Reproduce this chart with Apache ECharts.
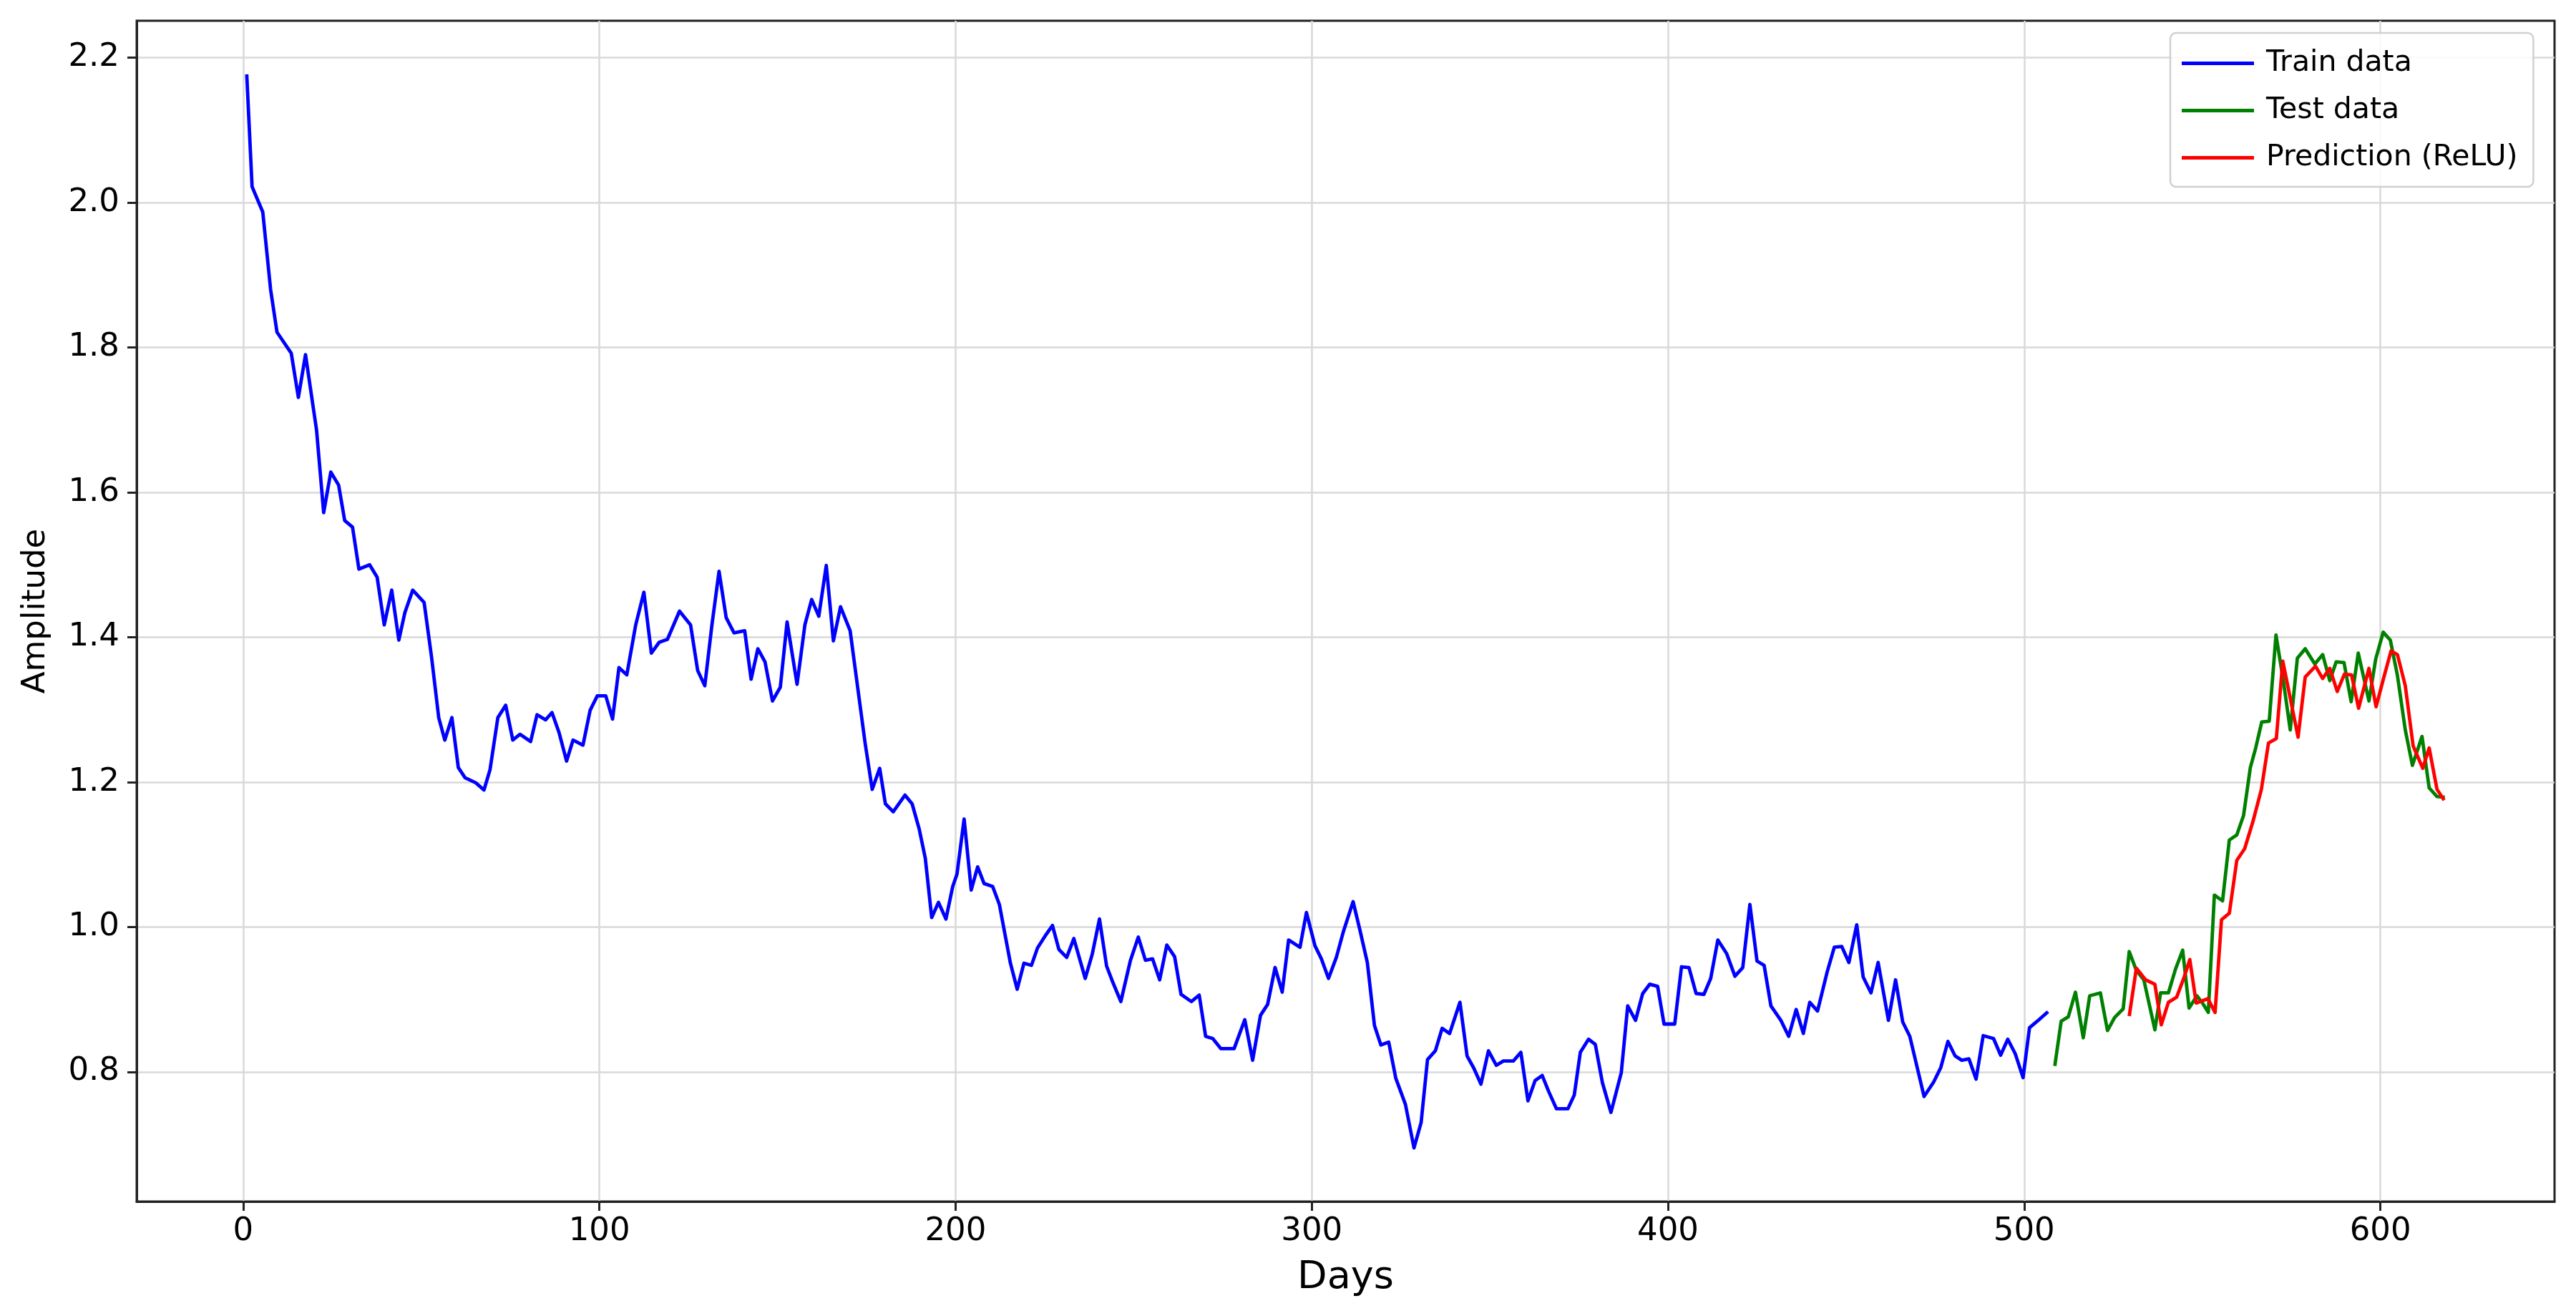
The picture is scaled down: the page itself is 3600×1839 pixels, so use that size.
<!DOCTYPE html>
<html>
<head>
<meta charset="utf-8">
<script src="https://cdn.jsdelivr.net/npm/echarts@6/dist/echarts.min.js"></script>
<style>
html,body{margin:0;padding:0;background:#fff;}
#chart{width:3600px;height:1839px;}
</style>
</head>
<body>
<div id="chart"></div>
<script>
// ---- data ----
const trainDays = [1.0,2.5,5.5,7.7,9.5,13.5,15.5,17.5,20.6,22.6,24.6,26.8,28.5,30.7,32.5,35.5,37.6,39.6,41.7,43.7,45.4,47.6,50.8,52.9,54.9,56.6,58.6,60.4,62.3,65.3,67.6,69.3,71.5,73.7,75.7,77.7,80.7,82.5,84.9,86.7,88.7,90.8,92.6,95.4,97.4,99.4,101.8,103.7,105.5,107.7,110.2,112.5,114.6,116.8,119.1,122.5,125.6,127.6,129.6,131.6,133.6,135.6,137.8,140.8,142.6,144.5,146.5,148.6,150.8,152.7,155.5,157.7,159.6,161.6,163.7,165.7,167.7,170.4,172.4,174.6,176.6,178.7,180.3,182.5,185.8,187.8,189.8,191.5,193.3,195.2,197.3,199.2,200.4,202.4,204.4,206.2,208.0,210.4,212.3,215.4,217.3,219.2,221.3,223.0,225.2,227.2,229.0,231.2,233.2,236.4,238.4,240.4,242.4,244.2,246.4,249.1,251.3,253.3,255.3,257.3,259.3,261.5,263.3,266.2,268.4,270.2,272.2,274.5,278.2,281.2,283.4,285.6,287.6,289.7,291.7,293.5,296.7,298.5,300.9,302.7,304.7,306.9,308.9,311.6,313.6,315.6,317.6,319.4,321.6,323.6,326.3,328.7,330.7,332.5,334.7,336.6,338.7,341.6,343.6,345.5,347.5,349.6,351.8,353.8,356.6,358.7,360.7,362.7,364.7,366.5,368.7,371.9,373.7,375.4,377.7,379.6,381.6,384.0,386.9,388.7,390.9,392.9,394.9,397.1,398.9,401.9,403.8,405.9,407.9,410.1,412.0,414.0,416.5,418.8,421.0,423.0,425.0,427.0,428.9,431.7,433.9,436.0,438.0,439.8,442.0,444.7,446.7,448.8,450.8,453.0,454.8,457.0,459.0,461.9,463.9,465.9,467.9,471.9,474.6,476.6,478.6,480.6,482.5,484.5,486.5,488.5,491.4,493.4,495.4,497.5,499.7,501.5,503.7,506.7];
const trainValues = [2.177,2.022,1.987,1.880,1.821,1.792,1.731,1.790,1.686,1.572,1.628,1.610,1.561,1.552,1.494,1.500,1.483,1.417,1.465,1.396,1.434,1.465,1.448,1.372,1.289,1.258,1.289,1.220,1.206,1.199,1.189,1.217,1.289,1.306,1.258,1.266,1.256,1.293,1.286,1.296,1.268,1.229,1.258,1.251,1.299,1.319,1.319,1.287,1.358,1.348,1.417,1.462,1.378,1.393,1.397,1.436,1.417,1.354,1.333,1.417,1.491,1.427,1.406,1.409,1.342,1.384,1.366,1.312,1.331,1.421,1.335,1.417,1.452,1.429,1.499,1.395,1.442,1.409,1.335,1.254,1.190,1.219,1.170,1.159,1.182,1.170,1.135,1.095,1.013,1.034,1.011,1.056,1.073,1.149,1.051,1.083,1.060,1.056,1.031,0.950,0.914,0.950,0.947,0.971,0.988,1.002,0.969,0.958,0.984,0.929,0.963,1.011,0.946,0.923,0.897,0.954,0.986,0.954,0.956,0.927,0.975,0.959,0.907,0.897,0.906,0.849,0.846,0.832,0.832,0.872,0.816,0.878,0.893,0.944,0.910,0.982,0.972,1.020,0.974,0.956,0.929,0.958,0.994,1.035,0.994,0.951,0.864,0.837,0.841,0.791,0.755,0.695,0.730,0.817,0.829,0.860,0.853,0.896,0.822,0.805,0.783,0.829,0.809,0.815,0.815,0.827,0.760,0.788,0.795,0.773,0.749,0.749,0.768,0.827,0.845,0.838,0.785,0.744,0.799,0.891,0.871,0.908,0.921,0.918,0.866,0.866,0.945,0.944,0.908,0.907,0.929,0.982,0.963,0.932,0.944,1.031,0.953,0.947,0.891,0.871,0.849,0.886,0.853,0.896,0.884,0.938,0.972,0.973,0.951,1.003,0.931,0.909,0.951,0.871,0.927,0.869,0.849,0.766,0.786,0.806,0.842,0.822,0.816,0.818,0.790,0.850,0.846,0.823,0.845,0.825,0.792,0.861,0.870,0.883];

const testDays = [508.6,510.4,512.4,514.4,516.6,518.4,521.4,523.4,525.4,527.8,529.5,531.5,533.6,536.7,538.3,540.5,542.5,544.5,546.3,548.5,550.2,551.7,553.4,555.7,557.6,559.7,561.6,563.5,565.0,566.7,568.8,570.7,572.7,574.7,576.7,578.9,581.6,583.8,585.8,587.6,589.8,591.8,593.8,596.8,598.7,600.8,602.8,604.8,607.0,609.0,611.7,613.7,615.9,618.1];
const testValues = [0.808,0.870,0.876,0.910,0.847,0.905,0.909,0.857,0.875,0.887,0.966,0.940,0.927,0.858,0.909,0.909,0.942,0.968,0.888,0.905,0.894,0.882,1.044,1.036,1.120,1.127,1.154,1.220,1.247,1.283,1.284,1.403,1.342,1.272,1.371,1.384,1.363,1.376,1.340,1.366,1.365,1.311,1.378,1.312,1.370,1.407,1.396,1.347,1.272,1.223,1.263,1.192,1.180,1.179];

const predDays = [529.5,531.5,534.1,536.7,538.5,540.5,542.8,544.8,546.5,548.3,551.6,553.6,555.4,557.6,559.7,561.9,564.2,566.6,568.6,570.8,572.6,574.7,576.9,578.9,581.8,583.8,585.8,587.9,589.9,591.9,593.9,596.8,598.8,601.0,603.0,604.8,607.0,609.2,611.9,613.7,615.9,617.9];
const predValues = [0.877,0.943,0.927,0.921,0.865,0.896,0.903,0.929,0.955,0.895,0.901,0.882,1.010,1.019,1.092,1.108,1.145,1.190,1.254,1.260,1.367,1.316,1.262,1.345,1.360,1.343,1.357,1.325,1.349,1.348,1.302,1.357,1.304,1.345,1.381,1.376,1.333,1.250,1.219,1.247,1.190,1.175];

const xTicks = [0,100,200,300,400,500,600];
const yTicks = [0.8,1.0,1.2,1.4,1.6,1.8,2.0,2.2];
const seriesNames = ['Train data','Test data','Prediction (ReLU)'];

// ---- chart ----
const pairs = (xs, ys) => xs.map((x, i) => [x, ys[i]]);
const FONT = 'DejaVu Sans';
const chart = echarts.init(document.getElementById('chart'), null, {renderer: 'canvas'});

const lineSeries = (name, xs, ys, color, z) => ({
  name: name,
  type: 'line',
  data: pairs(xs, ys),
  showSymbol: false,
  symbol: 'none',
  z: z,
  lineStyle: {color: color, width: 4.8, join: 'round'},
  itemStyle: {color: color},
  emphasis: {disabled: true},
  animation: false
});

chart.setOption({
  animation: false,
  backgroundColor: '#ffffff',
  grid: {
    left: 191, right: 30, top: 29, bottom: 160,
    show: true, borderColor: '#222222', borderWidth: 3, backgroundColor: 'transparent'
  },
  legend: {
    data: seriesNames,
    orient: 'vertical',
    left: 3033, top: 46,
    icon: 'rect',
    itemWidth: 101, itemHeight: 5,
    itemGap: 17,
    padding: [18, 22, 16, 16],
    backgroundColor: 'rgba(255,255,255,0.85)',
    borderColor: '#d0d0d0', borderWidth: 2.5, borderRadius: 8,
    textStyle: {fontFamily: FONT, fontSize: 41, color: '#000', lineHeight: 49, padding: [0, 0, 0, 12]}
  },
  xAxis: {
    type: 'value',
    min: -29.9, max: 648.9,
    name: 'Days', nameLocation: 'middle', nameGap: 80,
    nameTextStyle: {fontFamily: FONT, fontSize: 54, color: '#000'},
    axisLine: {show: true, onZero: false, lineStyle: {color: '#222222', width: 3}},
    axisTick: {show: true, inside: false, length: 13, customValues: xTicks, lineStyle: {color: '#222222', width: 3}},
    axisLabel: {customValues: xTicks, fontFamily: FONT, fontSize: 45, color: '#000', margin: 20,
      formatter: v => String(v)},
    splitLine: {show: true, lineStyle: {color: '#d9d9d9', width: 2.5}}
  },
  yAxis: {
    type: 'value',
    min: 0.621, max: 2.251,
    name: 'Amplitude', nameLocation: 'middle', nameGap: 118, nameRotate: 90,
    nameTextStyle: {fontFamily: FONT, fontSize: 45, color: '#000'},
    axisLine: {show: true, onZero: false, lineStyle: {color: '#222222', width: 3}},
    axisTick: {show: true, inside: false, length: 13, customValues: yTicks, lineStyle: {color: '#222222', width: 3}},
    axisLabel: {customValues: yTicks, fontFamily: FONT, fontSize: 45, color: '#000', margin: 24,
      formatter: v => Number(v).toFixed(1)},
    splitLine: {show: true, lineStyle: {color: '#d9d9d9', width: 2.5}}
  },
  series: [
    lineSeries(seriesNames[0], trainDays, trainValues, '#0000ff', 3),
    lineSeries(seriesNames[1], testDays, testValues, '#008000', 4),
    lineSeries(seriesNames[2], predDays, predValues, '#ff0000', 5)
  ]
});
</script>
</body>
</html>
